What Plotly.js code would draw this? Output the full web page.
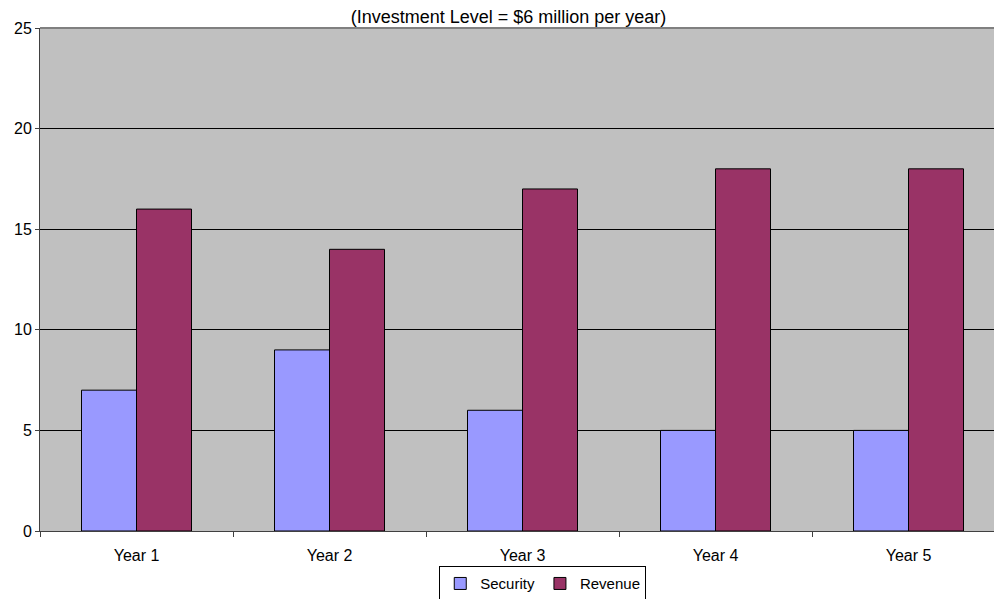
<!DOCTYPE html>
<html>
<head>
<meta charset="utf-8">
<script src="https://cdn.plot.ly/plotly-3.0.1.min.js"></script>
<style>html,body{margin:0;padding:0;background:#fff;}#chart{width:994px;height:599px;}</style>
</head>
<body>
<div id="chart"></div>
<script>
var categories = ["Year 1", "Year 2", "Year 3", "Year 4", "Year 5"];
var securityValues = [7, 9, 6, 5, 5];
var revenueValues = [16, 14, 17, 18, 18];
var yTickVals = [0, 5, 10, 15, 20, 25];

var family = "Liberation Sans, Arial, sans-serif";
var tickFont = {family: family, size: 16, color: "#000"};
var legendFont = {family: family, size: 15, color: "#000"};
var titleFont = {family: family, size: 18, color: "#000"};

var traces = [
  {type: "bar", name: "Security", x: categories, y: securityValues,
   marker: {color: "#9999FF", line: {color: "#000", width: 1}}},
  {type: "bar", name: "Revenue", x: categories, y: revenueValues,
   marker: {color: "#993366", line: {color: "#000", width: 1}}}
];

var layout = {
  width: 994, height: 599,
  margin: {l: 40, r: 0, t: 28, b: 68, autoexpand: false},
  paper_bgcolor: "#fff",
  plot_bgcolor: "#C0C0C0",
  font: tickFont,
  title: {text: "(Investment Level = $6 million per year)", font: titleFont,
          xref: "container", x: 508.5/994, xanchor: "center",
          yref: "container", y: 1 - 17/599, yanchor: "middle"},
  barmode: "group",
  bargap: 0.43,
  bargroupgap: 0,
  showlegend: true,
  legend: {orientation: "h", x: 0.527, xanchor: "center", y: -0.07, yanchor: "top",
           bordercolor: "#000", borderwidth: 1, font: legendFont, bgcolor: "#fff",
           itemwidth: 30, tracegroupgap: 0},
  xaxis: {type: "category", range: [-0.5, 4.443], tickson: "boundaries",
          ticks: "outside", ticklen: 5, tickcolor: "#404040", ticklabelstandoff: 10,
          showline: true, linecolor: "#404040", linewidth: 1, mirror: false,
          showgrid: false, zeroline: false, tickfont: tickFont, fixedrange: true},
  yaxis: {range: [0, 25], tickmode: "array", tickvals: yTickVals,
          ticks: "outside", ticklen: 4, tickcolor: "#404040",
          showline: true, linecolor: "#404040", linewidth: 1,
          showgrid: true, gridcolor: "#000", gridwidth: 1, zeroline: false,
          tickfont: tickFont, fixedrange: true},
  shapes: [{type: "line", xref: "paper", yref: "paper", x0: 0, x1: 1, y0: 1, y1: 1,
            line: {color: "#808080", width: 2}}]
};

Plotly.newPlot("chart", traces, layout, {displayModeBar: false, staticPlot: true});
</script>
</body>
</html>
